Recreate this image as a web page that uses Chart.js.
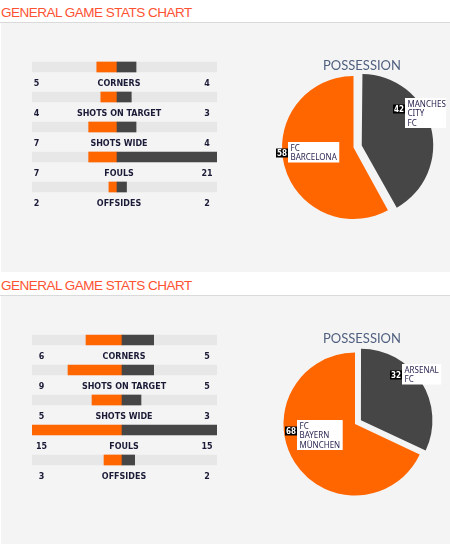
<!DOCTYPE html>
<html>
<head>
<meta charset="utf-8">
<title>General game stats chart</title>
<script src="https://cdn.jsdelivr.net/npm/chart.js@4.4.0/dist/chart.umd.min.js"></script>
<style>
    body {
        margin: 0;
        width: 450px;
        height: 544px;
        overflow: hidden;
        position: relative;
        background: #fff;
    }
    .section {
        position: absolute;
        left: 0;
        width: 450px;
        height: 272px;
    }
    .section h2 {
        position: absolute;
        left: 1px;
        top: 5px;
        margin: 0;
        font: normal 13.5px/16px "Liberation Sans", Arial, sans-serif;
        letter-spacing: -0.5px;
        color: #ff5232;
        white-space: nowrap;
    }
    .rule {
        position: absolute;
        left: 0;
        top: 22px;
        width: 450px;
        height: 1px;
        background: #dadada;
    }
    .panel {
        position: absolute;
        left: 1px;
        top: 23px;
        width: 449px;
        height: 249px;
        background: #f4f4f4;
    }
    .possession {
        position: absolute;
        left: 300px;
        top: 57px;
        width: 124px;
        text-align: center;
        font: 13px/16px Lato, "Liberation Sans", sans-serif;
        color: #4f5f7f;
    }
    canvas {
        position: absolute;
    }
</style>
</head>
<body>

<div class="section" style="top:0px">
    <h2>GENERAL GAME STATS CHART</h2>
    <div class="rule"></div>
    <div class="panel"></div>
    <canvas id="stats1" width="230" height="230" style="left:0px;top:0px"></canvas>
    <canvas id="pie1" width="191" height="201" style="left:258px;top:47px"></canvas>
    <div class="possession">POSSESSION</div>
</div>

<div class="section" style="top:273px">
    <h2>GENERAL GAME STATS CHART</h2>
    <div class="rule"></div>
    <div class="panel"></div>
    <canvas id="stats2" width="230" height="230" style="left:0px;top:0px"></canvas>
    <canvas id="pie2" width="190" height="202" style="left:260px;top:50px"></canvas>
    <div class="possession">POSSESSION</div>
</div>

<script>
const statCategories = ["CORNERS", "SHOTS ON TARGET", "SHOTS WIDE", "FOULS", "OFFSIDES"];

// partido 1
const match1Teams = ["FC BARCELONA", "MANCHESTER CITY FC"];
const match1Home = [5, 4, 7, 7, 2];
const match1Away = [4, 3, 4, 21, 2];
const match1Possession = [58, 42];

// partido 2
const match2Teams = ["FC BAYERN MÜNCHEN", "ARSENAL FC"];
const match2Home = [6, 9, 5, 15, 3];
const match2Away = [5, 5, 3, 15, 2];
const match2Possession = [68, 32];

const ORANGE = "#ff6600";
const DARK = "#464646";
const TRACK = "#e7e7e7";
const TEXT = "#1b1b38";

/* numeros y nombre de la estadistica debajo de cada barra */
const statLabels = {
    id: "statLabels",
    afterDatasetsDraw(chart) {
        const { ctx, chartArea } = chart;
        const bars = chart.getDatasetMeta(1).data;
        const home = chart.data.datasets[1].data;
        const away = chart.data.datasets[2].data;
        const split = chart.scales.xL.getPixelForValue(0);

        ctx.save();
        ctx.font = "bold 8px 'DejaVu Sans', Verdana, sans-serif";
        ctx.fillStyle = TEXT;
        ctx.textAlign = "center";
        ctx.textBaseline = "alphabetic";
        bars.forEach((bar, i) => {
            const y = bar.y + 19;
            ctx.fillText(chart.data.labels[i], split + 2, y);
            ctx.fillText(String(home[i]), split - 80.5, y);
            ctx.fillText(String(away[i]), chartArea.right - 10, y);
        });
        ctx.restore();
    }
};

function makeStatsChart(id, home, away, leftWidth) {
    const max = Math.max(...home, ...away);
    const areaWidth = 185;
    const rightWidth = areaWidth - leftWidth;
    const rightMin = -max * leftWidth / rightWidth;

    return new Chart(document.getElementById(id), {
        type: "bar",
        data: {
            labels: statCategories,
            datasets: [
                {
                    data: statCategories.map(() => [rightMin, max]),
                    xAxisID: "xR",
                    backgroundColor: TRACK,
                    order: 3
                },
                {
                    data: home,
                    xAxisID: "xL",
                    backgroundColor: ORANGE,
                    order: 2
                },
                {
                    data: away,
                    xAxisID: "xR",
                    backgroundColor: DARK,
                    order: 1
                }
            ]
        },
        options: {
            indexAxis: "y",
            responsive: false,
            animation: false,
            layout: { padding: { left: 32, right: 13, top: 52, bottom: 28 } },
            datasets: {
                bar: { grouped: false, barThickness: 10, borderWidth: 0 }
            },
            scales: {
                y: { display: false },
                xL: { type: "linear", display: false, reverse: true, min: -max * rightWidth / leftWidth, max: max },
                xR: { type: "linear", display: false, min: rightMin, max: max }
            },
            plugins: {
                legend: { display: false },
                tooltip: { enabled: false }
            }
        },
        plugins: [statLabels]
    });
}

/* la porcion separada no debe crecer de radio */
const explodeFix = {
    id: "explodeFix",
    afterDatasetsUpdate(chart) {
        chart.getDatasetMeta(0).data.forEach(arc => {
            const off = (arc.options.offset || 0) / 4;
            if (!off) return;
            const fix = 1 - Math.sin(Math.min(Math.PI, arc.circumference));
            arc.outerRadius -= off * fix;
        });
    }
};

const sliceLabels = {
    id: "sliceLabels",
    afterDatasetsDraw(chart, args, opts) {
        const { ctx, chartArea } = chart;
        const meta = chart.getDatasetMeta(0);
        const R = meta.controller.outerRadius;
        const values = chart.data.datasets[0].data;
        const names = chart.data.labels;
        const clipRight = chartArea.right - 3;

        ctx.save();
        meta.data.forEach((arc, i) => {
            const place = opts.places[i];
            const off = (arc.options.offset || 0) / 4;
            const mid = (arc.startAngle + arc.endAngle) / 2;
            const cx = arc.x + Math.cos(mid) * off;
            const cy = arc.y + Math.sin(mid) * off;
            const a = arc.startAngle + place.t * (arc.endAngle - arc.startAngle);
            const ax = Math.round(cx + Math.cos(a) * place.f * R);
            const ay = Math.round(cy + Math.sin(a) * place.f * R);

            // caja negra con el porcentaje
            const num = String(values[i]);
            ctx.font = "bold 8px 'DejaVu Sans Condensed', 'DejaVu Sans', sans-serif";
            const numW = Math.round(ctx.measureText(num).width + 2);
            ctx.fillStyle = "#000";
            ctx.fillRect(ax, ay - 4.5, numW, 9);
            ctx.fillStyle = "#fff";
            ctx.textAlign = "center";
            ctx.textBaseline = "alphabetic";
            ctx.fillText(num, ax + numW / 2, ay + 3);

            // caja blanca con el equipo
            const lines = names[i].split(" ");
            ctx.font = "8px 'Noto Sans', 'DejaVu Sans', sans-serif";
            const textW = Math.max(...lines.map(l => ctx.measureText(l).width));
            const bx = ax + numW;
            const by = ay - 11;
            const bw = Math.min(textW + 5, clipRight - bx);
            const bh = lines.length * 9.5 + 1.5;
            ctx.fillStyle = "#fff";
            ctx.fillRect(bx, by, bw, bh);

            ctx.save();
            ctx.beginPath();
            ctx.rect(bx, by, bw, bh);
            ctx.clip();
            ctx.fillStyle = "#2a2550";
            ctx.textAlign = "left";
            lines.forEach((l, k) => ctx.fillText(l, bx + 2.5, by + 8.5 + k * 9.5));
            ctx.restore();
        });
        ctx.restore();
    }
};

function makePossessionChart(id, teams, possession, explode, places) {
    return new Chart(document.getElementById(id), {
        type: "pie",
        data: {
            labels: [teams[1], teams[0]],
            datasets: [{
                data: [possession[1], possession[0]],
                backgroundColor: [DARK, ORANGE],
                borderWidth: 0,
                offset: [explode, 0],
                radius: 71.5
            }]
        },
        options: {
            responsive: false,
            animation: false,
            layout: { padding: 0 },
            plugins: {
                legend: { display: false },
                tooltip: { enabled: false },
                sliceLabels: { places: places }
            }
        },
        plugins: [explodeFix, sliceLabels]
    });
}

makeStatsChart("stats1", match1Home, match1Away, 85);
makeStatsChart("stats2", match2Home, match2Away, 90);

makePossessionChart("pie1", match1Teams, match1Possession, 34,
    [{ t: 0.27, f: 0.67 }, { t: 0.55, f: 1.08 }]);
makePossessionChart("pie2", match2Teams, match2Possession, 28,
    [{ t: 0.28, f: 0.75 }, { t: 0.61, f: 0.98 }]);
</script>
</body>
</html>
